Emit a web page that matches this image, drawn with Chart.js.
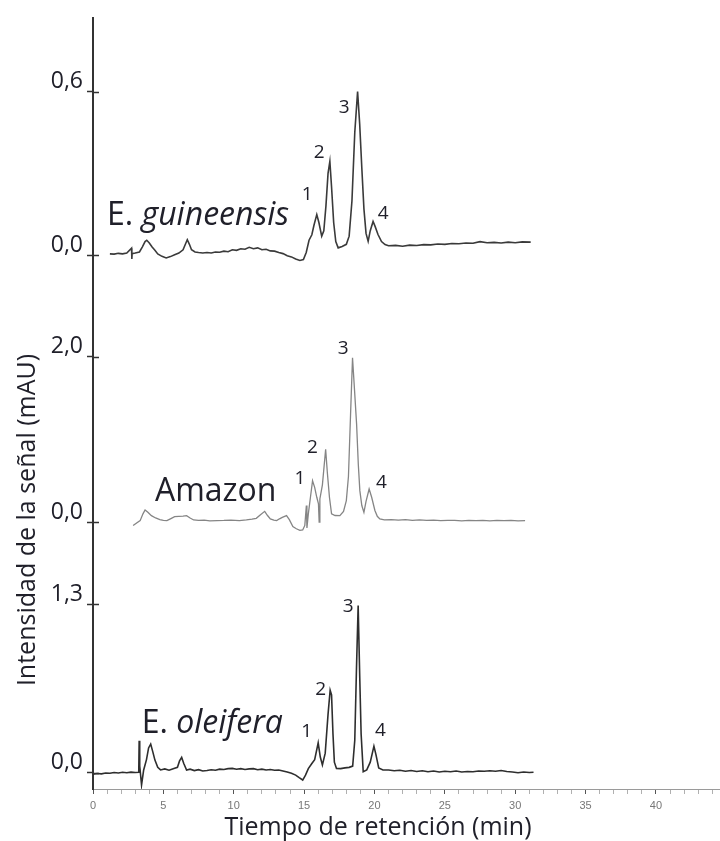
<!DOCTYPE html>
<html>
<head>
<meta charset="utf-8">
<title>Cromatogramas</title>
<script src="https://cdn.jsdelivr.net/npm/chart.js@4.4.0/dist/chart.umd.min.js"></script>
<style>
  html, body { margin: 0; padding: 0; background: #fff; }
  #chart { display: block; }
</style>
</head>
<body>
<canvas id="chart" width="720" height="841"></canvas>
<script>
// Retention time (min) and signal (mAU)
const guineensisTime = [1.2,1.5,1.8,2.1,2.4,2.74,2.76,2.78,3.0,3.3,3.5,3.7,3.82,4.0,4.2,4.4,4.6,4.9,5.2,5.5,5.8,6.1,6.4,6.6,6.7,6.85,7.0,7.25,7.5,7.8,8.1,8.4,8.7,9.0,9.3,9.6,9.9,10.2,10.5,10.8,11.1,11.4,11.7,12.0,12.3,12.6,12.9,13.2,13.5,13.8,14.1,14.4,14.7,14.95,15.15,15.35,15.55,15.7,15.9,16.05,16.25,16.4,16.55,16.7,16.83,16.95,17.1,17.25,17.42,17.7,18.0,18.2,18.4,18.6,18.8,18.95,19.1,19.25,19.4,19.55,19.7,19.9,20.05,20.25,20.5,20.75,21.0,21.5,22.0,22.5,23.0,23.5,24.0,24.5,25.0,25.5,26.0,26.5,27.0,27.5,28.0,28.5,29.0,29.5,30.0,30.5,31.1];
const guineensisSignal = [0.005,0.004,0.007,0.005,0.008,0.026,-0.014,0.006,0.008,0.012,0.03,0.05,0.055,0.045,0.03,0.018,0.005,-0.004,-0.01,-0.005,0.002,0.008,0.02,0.045,0.057,0.04,0.02,0.012,0.01,0.008,0.01,0.008,0.012,0.011,0.015,0.013,0.02,0.018,0.024,0.022,0.029,0.024,0.027,0.02,0.022,0.016,0.015,0.01,0.006,-0.002,-0.006,-0.014,-0.019,-0.016,0.01,0.055,0.075,0.11,0.149,0.12,0.07,0.09,0.18,0.30,0.344,0.25,0.12,0.05,0.027,0.032,0.04,0.07,0.2,0.45,0.6,0.48,0.32,0.17,0.08,0.051,0.09,0.124,0.105,0.076,0.05,0.039,0.035,0.036,0.033,0.037,0.036,0.039,0.038,0.041,0.04,0.043,0.042,0.045,0.044,0.05,0.046,0.047,0.045,0.048,0.046,0.049,0.048];

const amazonTime = [2.85,3.1,3.35,3.55,3.7,3.9,4.15,4.45,4.75,5.0,5.25,5.5,5.8,6.1,6.4,6.65,6.9,7.15,7.5,7.9,8.3,8.8,9.3,9.8,10.4,10.9,11.3,11.6,11.9,12.2,12.4,12.6,12.85,13.05,13.25,13.45,13.75,13.95,14.2,14.45,14.7,14.9,15.05,15.16,15.2,15.3,15.45,15.6,15.75,15.9,16.02,16.07,16.12,16.3,16.53,16.65,16.8,16.95,17.2,17.54,17.8,18.0,18.15,18.3,18.44,18.58,18.73,18.85,18.96,19.1,19.25,19.4,19.62,19.8,20.03,20.2,20.38,20.7,21.2,21.7,22.2,22.7,23.2,23.7,24.2,24.7,25.2,25.7,26.2,26.7,27.2,27.7,28.2,28.7,29.2,29.7,30.2,30.7];
const amazonSignal = [-0.042,-0.01,0.018,0.1,0.147,0.12,0.078,0.05,0.03,0.02,0.018,0.04,0.066,0.07,0.072,0.078,0.05,0.026,0.02,0.025,0.016,0.018,0.02,0.024,0.018,0.026,0.035,0.046,0.09,0.13,0.08,0.039,0.025,0.018,0.04,0.058,0.078,0.03,-0.054,-0.08,-0.1,-0.095,-0.04,0.2,-0.07,0.1,0.3,0.5,0.42,0.3,0.22,0.0,0.28,0.45,0.88,0.6,0.3,0.1,0.08,0.078,0.13,0.26,0.55,1.3,1.985,1.6,1.18,0.7,0.38,0.2,0.118,0.25,0.4,0.3,0.14,0.07,0.039,0.026,0.03,0.024,0.03,0.022,0.026,0.02,0.024,0.018,0.022,0.02,0.016,0.022,0.018,0.02,0.016,0.02,0.018,0.02,0.016,0.018];

const oleiferaTime = [0.0,0.3,0.6,0.9,1.2,1.5,1.8,2.1,2.4,2.7,3.0,3.25,3.28,3.32,3.45,3.6,3.8,3.95,4.1,4.25,4.4,4.6,4.8,5.1,5.4,5.7,6.0,6.15,6.3,6.45,6.65,6.9,7.2,7.5,7.8,8.1,8.4,8.7,9.0,9.3,9.6,9.9,10.2,10.5,10.8,11.1,11.4,11.7,12.0,12.3,12.6,12.9,13.2,13.5,13.8,14.1,14.4,14.65,14.9,15.1,15.3,15.55,15.75,16.0,16.15,16.3,16.5,16.7,16.85,16.95,17.05,17.15,17.3,17.6,17.9,18.2,18.45,18.6,18.72,18.84,18.95,19.05,19.2,19.45,19.7,19.96,20.1,20.3,20.6,21.0,21.4,21.8,22.2,22.6,23.0,23.4,23.8,24.2,24.6,25.0,25.4,25.8,26.2,26.6,27.0,27.4,27.8,28.2,28.6,29.0,29.4,29.8,30.2,30.6,31.0,31.3];
const oleiferaSignal = [-0.012,-0.008,-0.01,-0.004,-0.006,0.0,-0.003,0.002,-0.002,0.003,0.0,0.002,0.245,0.05,-0.096,0.02,0.1,0.19,0.22,0.16,0.096,0.04,0.02,0.028,0.018,0.03,0.04,0.09,0.117,0.07,0.02,0.026,0.015,0.022,0.012,0.016,0.022,0.018,0.026,0.024,0.03,0.032,0.026,0.03,0.024,0.028,0.03,0.022,0.026,0.02,0.024,0.018,0.02,0.012,0.004,-0.006,-0.02,-0.04,-0.058,-0.02,0.03,0.07,0.1,0.23,0.12,0.058,0.15,0.45,0.637,0.6,0.3,0.08,0.032,0.03,0.036,0.04,0.05,0.25,0.8,1.292,0.75,0.3,0.006,0.02,0.08,0.204,0.14,0.035,0.02,0.02,0.014,0.018,0.01,0.016,0.008,0.014,0.006,0.012,0.004,0.01,0.006,0.012,0.004,0.008,0.006,0.012,0.01,0.014,0.01,0.016,0.008,0.004,-0.002,0.004,0.0,0.002];

// Axis ticks
const xMajorTicks = [0, 5, 10, 15, 20, 25, 30, 35, 40];
const guineensisTicks = [0, 0.6];
const amazonTicks = [0, 2.0];
const oleiferaTicks = [0, 1.3];

// Sample names (plain part + italic part) and where they sit
const sampleAxis = ['yGuineensis', 'yAmazon', 'yOleifera'];
const samplePlain = ['E. ', 'Amazon', 'E. '];
const sampleItalic = ['guineensis', '', 'oleifera'];
const sampleTime = [1.0, 4.4, 3.46];
const sampleLevel = [0.112, 0.259, 0.302];

// Peak numbers
const peakNames = ['1', '2', '3', '4'];
const guineensisPeakTime = [15.22, 16.07, 17.85, 20.62];
const guineensisPeakLevel = [0.222, 0.375, 0.541, 0.151];
const amazonPeakTime = [14.70, 15.6, 17.78, 20.5];
const amazonPeakLevel = [0.52, 0.90, 2.09, 0.48];
const oleiferaPeakTime = [15.18, 16.17, 18.13, 20.43];
const oleiferaPeakLevel = [0.315, 0.642, 1.285, 0.328];

const textColor = '#20202a';
const fontFamily = "'Open Sans', sans-serif";

function toPoints(times, values) {
    return times.map((t, i) => ({ x: t, y: values[i] }));
}

function yAxis(min, max, weight, tickValues) {
    return {
        type: 'linear',
        position: 'left',
        stack: 'signal',
        stackWeight: weight,
        min: min,
        max: max,
        afterBuildTicks: scale => { scale.ticks = tickValues.map(v => ({ value: v })); },
        afterFit: scale => { scale.width = 93; },
        border: { color: '#333', width: 2 },
        grid: { drawOnChartArea: false, drawTicks: true, tickLength: 6, tickColor: '#333', tickWidth: 1.5 },
        ticks: {
            color: textColor,
            font: { family: fontFamily, size: 23 },
            padding: 4,
            labelOffset: -10,
            callback: v => v.toFixed(1).replace('.', ',')
        }
    };
}

const labelsPlugin = {
    id: 'chromLabels',
    afterDraw(chart) {
        const ctx = chart.ctx;
        const xs = chart.scales.x;
        ctx.save();

        // tick marks crossing the y axis
        ctx.strokeStyle = '#333';
        ctx.lineWidth = 1.5;
        ['yGuineensis', 'yAmazon', 'yOleifera'].forEach(id => {
            const s = chart.scales[id];
            s.ticks.forEach(t => {
                const y = Math.round(s.getPixelForValue(t.value)) + 0.5;
                ctx.beginPath();
                ctx.moveTo(s.right, y);
                ctx.lineTo(s.right + 6, y);
                ctx.stroke();
            });
        });

        ctx.fillStyle = textColor;

        // sample names
        ctx.textBaseline = 'alphabetic';
        ctx.textAlign = 'left';
        for (let i = 0; i < samplePlain.length; i++) {
            const s = chart.scales[sampleAxis[i]];
            const x = xs.getPixelForValue(sampleTime[i]);
            const y = s.getPixelForValue(sampleLevel[i]);
            ctx.font = `32px ${fontFamily}`;
            ctx.fillText(samplePlain[i], x, y);
            const w = ctx.measureText(samplePlain[i]).width;
            ctx.font = `italic 32px ${fontFamily}`;
            ctx.fillText(sampleItalic[i], x + w, y);
        }

        // peak numbers
        ctx.font = `19px ${fontFamily}`;
        ctx.textAlign = 'center';
        ctx.textBaseline = 'middle';
        const peakSets = [
            ['yGuineensis', guineensisPeakTime, guineensisPeakLevel],
            ['yAmazon', amazonPeakTime, amazonPeakLevel],
            ['yOleifera', oleiferaPeakTime, oleiferaPeakLevel]
        ];
        peakSets.forEach(([id, times, levels]) => {
            const s = chart.scales[id];
            peakNames.forEach((name, i) => {
                ctx.fillText(name, xs.getPixelForValue(times[i]), s.getPixelForValue(levels[i]));
            });
        });

        // axis titles
        ctx.font = `25px ${fontFamily}`;
        ctx.fillText('Tiempo de retención (min)', 378, 828);
        ctx.translate(28, 520);
        ctx.rotate(-Math.PI / 2);
        ctx.fillText('Intensidad de la señal (mAU)', 0, 0);

        ctx.restore();
    }
};

new Chart(document.getElementById('chart'), {
    type: 'line',
    data: {
        datasets: [
            {
                label: 'E. guineensis',
                data: toPoints(guineensisTime, guineensisSignal),
                yAxisID: 'yGuineensis',
                borderColor: '#3a3a3a',
                borderWidth: 1.6,
                pointRadius: 0,
                tension: 0
            },
            {
                label: 'Amazon',
                data: toPoints(amazonTime, amazonSignal),
                yAxisID: 'yAmazon',
                borderColor: '#858585',
                borderWidth: 1.3,
                pointRadius: 0,
                tension: 0
            },
            {
                label: 'E. oleifera',
                data: toPoints(oleiferaTime, oleiferaSignal),
                yAxisID: 'yOleifera',
                borderColor: '#2e2e2e',
                borderWidth: 1.6,
                pointRadius: 0,
                tension: 0
            }
        ]
    },
    options: {
        responsive: false,
        devicePixelRatio: 1,
        animation: false,
        layout: { padding: { top: 16, right: 0, bottom: 0, left: 0 } },
        plugins: {
            legend: { display: false },
            tooltip: { enabled: false }
        },
        scales: {
            x: {
                type: 'linear',
                min: 0,
                max: 44.55,
                afterFit: scale => { scale.height = 52; },
                border: { color: '#9a9a9a', width: 1 },
                grid: {
                    drawOnChartArea: false,
                    tickLength: 5,
                    tickColor: c => xMajorTicks.includes(c.tick.value) ? '#555' : '#b0b0b0'
                },
                ticks: {
                    stepSize: 1,
                    includeBounds: false,
                    autoSkip: false,
                    maxRotation: 0,
                    color: '#777',
                    font: { family: "'Liberation Sans', Arial, sans-serif", size: 11 },
                    padding: 5,
                    callback: v => xMajorTicks.includes(v) ? String(v) : ''
                }
            },
            yOleifera: yAxis(-0.1273, 1.6396, 229, oleiferaTicks),
            yAmazon: yAxis(-0.4639, 2.6687, 260, amazonTicks),
            yGuineensis: yAxis(-0.1683, 0.8707, 284, guineensisTicks)
        }
    },
    plugins: [labelsPlugin]
});
</script>
</body>
</html>
